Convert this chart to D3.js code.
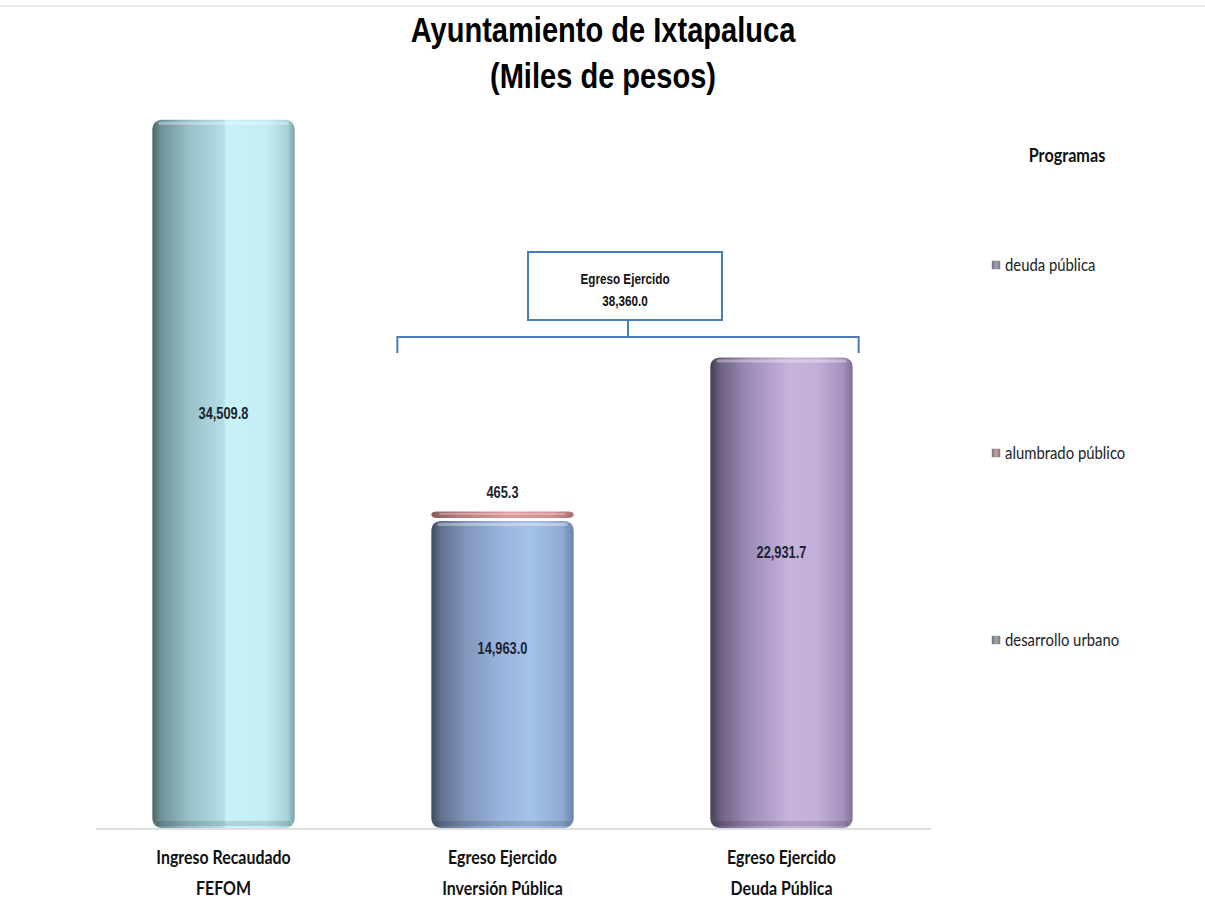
<!DOCTYPE html>
<html><head><meta charset="utf-8">
<script src="https://cdn.jsdelivr.net/npm/d3@7/dist/d3.min.js"></script>
<style>
html,body{margin:0;padding:0;background:#fff;}
svg{display:block;}
</style></head>
<body>
<svg id="chart" width="1205" height="905"></svg>
<script>
const categories = ["Ingreso Recaudado|FEFOM", "Egreso Ejercido|Inversión Pública", "Egreso Ejercido|Deuda Pública"];
const seriesNames = ["desarrollo urbano", "alumbrado público", "deuda pública"];
const desarrolloUrbano = [34509.8, 14963.0, 0];
const alumbradoPublico = [0, 465.3, 0];
const deudaPublica = [0, 0, 22931.7];
const totalEgreso = 38360.0;
const legendItems = ["deuda pública", "alumbrado público", "desarrollo urbano"];

const narrow = "'Liberation Sans','Arial',sans-serif";
const humanist = "Lato,'Open Sans',sans-serif";

const svg = d3.select("#chart");
const defs = svg.append("defs");

// horizontally condense text (emulates narrow typefaces)
function condense(sel, f){
  sel.each(function(){
    const len = this.getComputedTextLength();
    d3.select(this).attr("textLength", len*f).attr("lengthAdjust","spacingAndGlyphs");
  });
}

function hGrad(id, stops){
  const g = defs.append("linearGradient").attr("id", id).attr("x1","0").attr("x2","1").attr("y1","0").attr("y2","0");
  stops.forEach(([o,c]) => g.append("stop").attr("offset", o).attr("stop-color", c));
}
hGrad("gCyan", [[0,"#4d6469"],[0.06,"#6f9199"],[0.25,"#97bfc7"],[0.5,"#b4dfe6"],[0.52,"#c6f2f8"],[0.8,"#c3eef4"],[0.95,"#a6d2d9"],[1,"#7c9fa6"]]);
hGrad("gBlue", [[0,"#3f4b60"],[0.07,"#62728f"],[0.25,"#8197bd"],[0.5,"#9ab5de"],[0.7,"#a4c1e8"],[0.92,"#8fabd3"],[1,"#6a82a8"]]);
hGrad("gPurple", [[0,"#443e50"],[0.07,"#6c607f"],[0.25,"#9a89b5"],[0.55,"#c6b3dc"],[0.75,"#c3b0d9"],[0.93,"#a592bd"],[1,"#7e6f93"]]);
hGrad("gRed", [[0,"#8a5a5d"],[0.2,"#b97b7e"],[0.55,"#e0999b"],[0.85,"#d58e90"],[1,"#a86f72"]]);
hGrad("gMarkDeuda", [[0,"#6d6d78"],[0.5,"#a5a3b0"],[1,"#7a7886"]]);
hGrad("gMarkAlum", [[0,"#8a6a74"],[0.5,"#c7a3ad"],[1,"#91707a"]]);
hGrad("gMarkDes", [[0,"#6a6a6a"],[0.5,"#a8a8a8"],[1,"#777"]]);

const segFill = [["gCyan","gBlue","gPurple"], ["gRed","gRed","gRed"], ["gPurple","gPurple","gPurple"]];

const x = d3.scaleBand().domain(categories).range([84, 921]).paddingInner(0.49).paddingOuter(0.245);
const y = d3.scaleLinear().domain([0, 40000]).range([828, 7.2]);

svg.append("line").attr("x1",0).attr("x2",1205).attr("y1",6).attr("y2",6).attr("stroke","#e6e6e6").attr("stroke-width",1.5);

svg.append("line").attr("x1", x.range()[0]+12).attr("x2", x.range()[1]+10).attr("y1", y(0)+1).attr("y2", y(0)+1)
  .attr("stroke","#d4d4d4").attr("stroke-width",1.5);

const table = categories.map((c,i) => ({cat:c, "desarrollo urbano":desarrolloUrbano[i], "alumbrado público":alumbradoPublico[i], "deuda pública":deudaPublica[i]}));
const stacked = d3.stack().keys(seriesNames)(table);

const bw = x.bandwidth();
stacked.forEach((layer, si) => {
  layer.forEach((d, ci) => {
    if (d[1] - d[0] <= 0) return;
    const gx = x(categories[ci]);
    let top = y(d[1]), bot = y(d[0]);
    const isCap = seriesNames[si] === "alumbrado público";
    if (d[0] > 0) { bot -= 3; }
    const h = bot - top;
    const g = svg.append("g");
    g.append("rect").attr("x", gx).attr("y", top).attr("width", bw).attr("height", h)
      .attr("rx", isCap ? 5 : 9).attr("ry", isCap ? 4 : 9).attr("fill", `url(#${segFill[si][ci]})`);
    if (!isCap) {
      g.append("rect").attr("x", gx+6).attr("y", top+2).attr("width", bw-12).attr("height", 3)
        .attr("fill", "#ffffff").attr("opacity", 0.35).attr("rx", 1.5);
      g.append("rect").attr("x", gx+4).attr("y", bot-7).attr("width", bw-8).attr("height", 5)
        .attr("fill", "#000").attr("opacity", 0.12).attr("rx", 2);
    } else {
      g.append("rect").attr("x", gx+8).attr("y", top+1.5).attr("width", bw-16).attr("height", 2)
        .attr("fill", "#fff").attr("opacity", 0.3);
    }
  });
});

// value labels
const fmt = d3.format(",.1f");
stacked.forEach((layer, si) => {
  layer.forEach((d, ci) => {
    const v = d[1] - d[0];
    if (v <= 0) return;
    const cx = x(categories[ci]) + bw/2;
    const isCap = seriesNames[si] === "alumbrado público";
    const ty = isCap ? y(d[1]) - 19 : y(d[0] + v*0.585);
    svg.append("text").attr("x", cx).attr("y", ty).attr("text-anchor","middle").attr("dominant-baseline","central")
      .style("font-family", narrow).style("font-weight","bold").style("font-size","16px").attr("fill","#1b2330")
      .text(fmt(v)).call(condense, 0.8);
  });
});

// category labels
categories.forEach(c => {
  const parts = c.split("|");
  parts.forEach((p,i) => svg.append("text").attr("x", x(c)+bw/2).attr("y", 864 + i*31).attr("text-anchor","middle")
    .style("font-family", humanist).style("font-weight","bold").style("font-size","18.5px").attr("fill","#111")
    .text(p).call(condense, 0.86));
});

// bracket annotation
const c2 = categories[1], c3 = categories[2];
const bl = x(c2) - 34, br = x(c3) + bw + 6, by = 337;
const boxL = 528, boxR = 722, boxT = 252, boxB = 320;
const blue = "#4a7ab8";
svg.append("path").attr("d", `M${bl},${by+16}V${by}H${br}V${by+16}`).attr("fill","none").attr("stroke", blue).attr("stroke-width",2);
svg.append("line").attr("x1",(boxL+boxR)/2+3).attr("x2",(boxL+boxR)/2+3).attr("y1",boxB).attr("y2",by).attr("stroke",blue).attr("stroke-width",2);
svg.append("rect").attr("x",boxL).attr("y",boxT).attr("width",boxR-boxL).attr("height",boxB-boxT).attr("fill","#fff").attr("stroke",blue).attr("stroke-width",2);
["Egreso Ejercido", fmt(totalEgreso)].forEach((s,i) =>
  svg.append("text").attr("x",(boxL+boxR)/2).attr("y",284 + i*22).attr("text-anchor","middle")
    .style("font-family", narrow).style("font-weight","bold").style("font-size","15px").attr("fill","#111")
    .text(s).call(condense, 0.78));

// title
["Ayuntamiento de Ixtapaluca", "(Miles de pesos)"].forEach((s,i) =>
  svg.append("text").attr("x",603).attr("y",42 + i*46).attr("text-anchor","middle")
    .style("font-family", narrow).style("font-weight","bold").style("font-size","35px").attr("fill","#000")
    .text(s).call(condense, 0.83));

// legend
svg.append("text").attr("x",1067).attr("y",155).attr("text-anchor","middle").attr("dominant-baseline","central")
  .style("font-family", humanist).style("font-weight","bold").style("font-size","18px").attr("fill","#111")
  .text("Programas").call(condense, 0.9);
const legY = [265, 453, 640];
const markFill = ["gMarkDeuda","gMarkAlum","gMarkDes"];
legendItems.forEach((name,i) => {
  svg.append("rect").attr("x",992).attr("y",legY[i]-4).attr("width",8).attr("height",8).attr("fill",`url(#${markFill[i]})`).attr("stroke","#8a8a8a").attr("stroke-width",0.5);
  svg.append("text").attr("x",1005).attr("y",legY[i]).attr("dominant-baseline","central")
    .style("font-family", humanist).style("font-size","16.5px").attr("fill","#222").text(name).call(condense, 0.9);
});
</script>
</body></html>
